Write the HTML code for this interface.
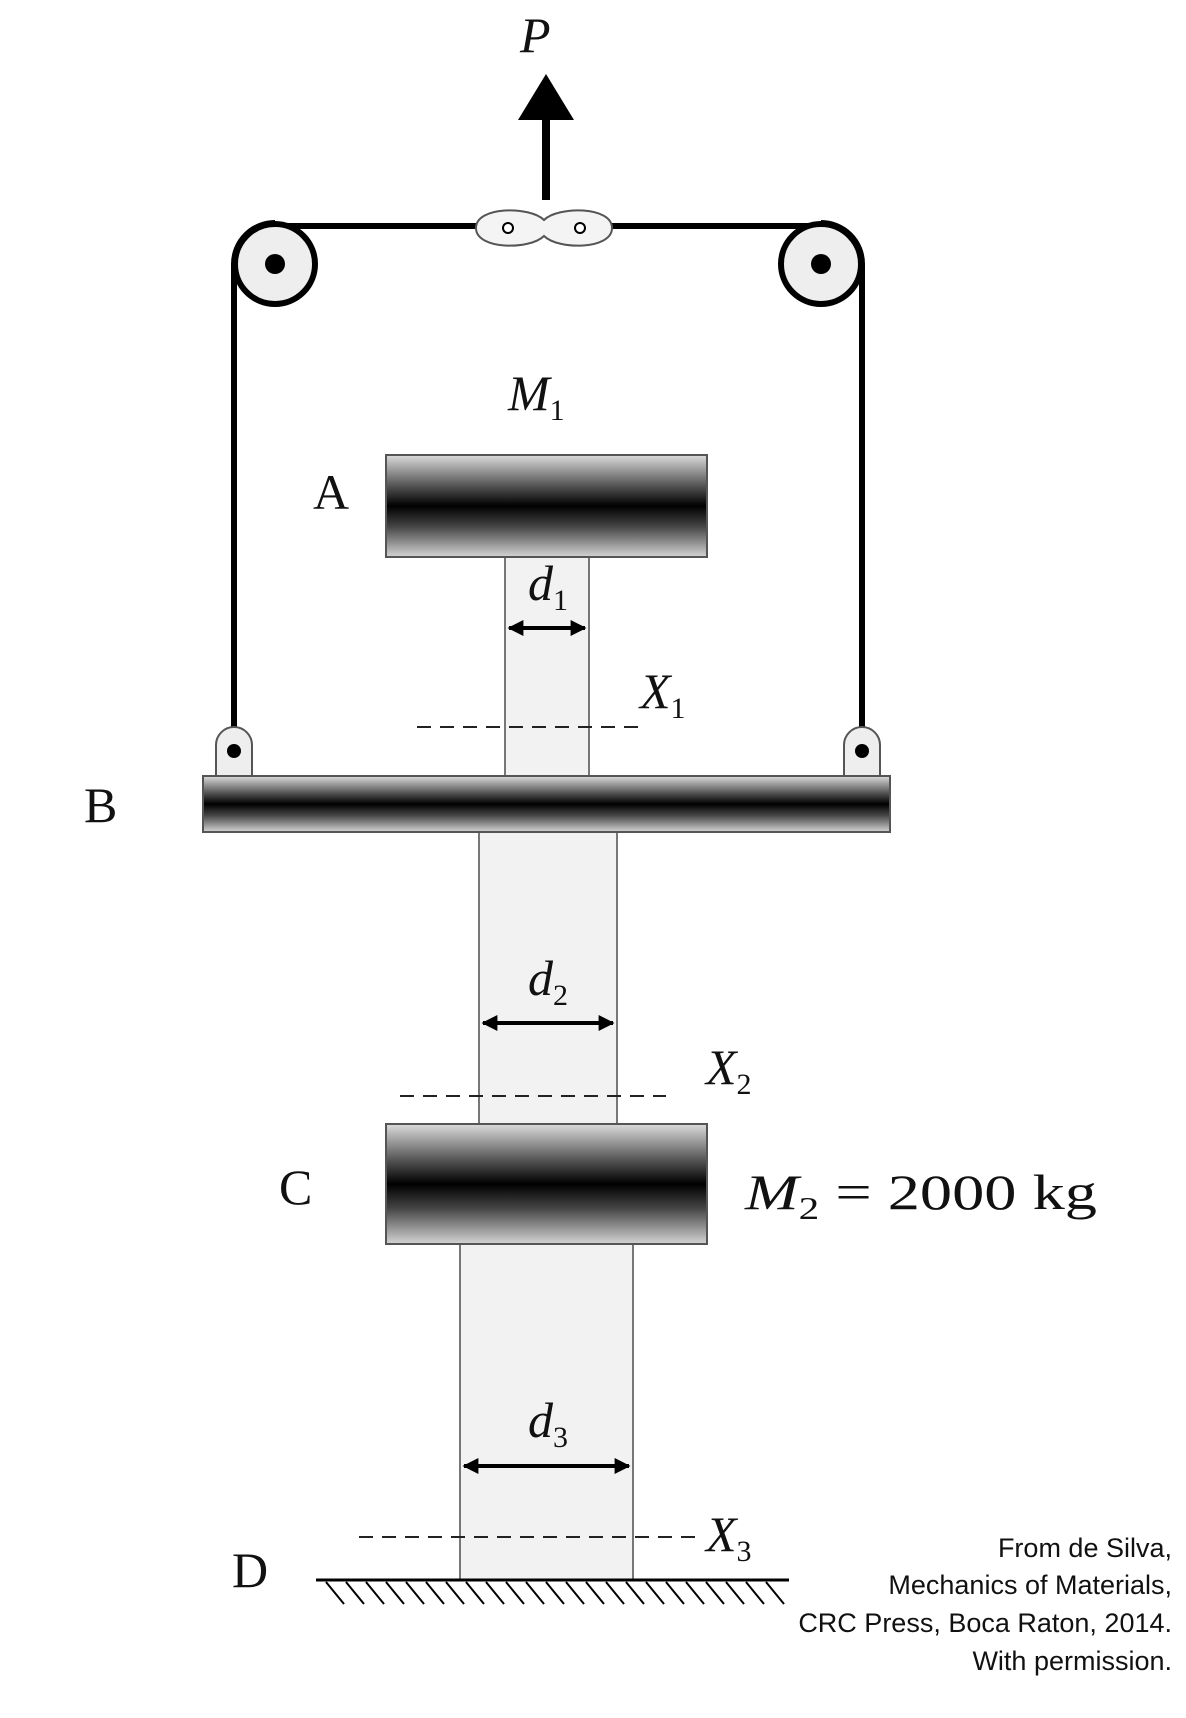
<!DOCTYPE html>
<html><head><meta charset="utf-8"><style>
html,body{margin:0;padding:0;background:#fff}
svg{display:block}
.s{font-family:"Liberation Serif",serif;font-size:50px;fill:#111}
.i{font-style:italic}
.c{font-family:"Liberation Sans",sans-serif;font-size:27px;fill:#111}
</style></head><body>
<svg width="1186" height="1718" viewBox="0 0 1186 1718">
<defs>
<linearGradient id="blk" x1="0" y1="0" x2="0" y2="1">
<stop offset="0" stop-color="#dcdcdc"/><stop offset="0.3" stop-color="#555"/><stop offset="0.5" stop-color="#000"/><stop offset="0.7" stop-color="#444"/><stop offset="1" stop-color="#d4d4d4"/>
</linearGradient>
<marker id="ah" viewBox="0 0 10 10" refX="9" refY="5" markerWidth="4" markerHeight="4" orient="auto-start-reverse"><path d="M0,0L10,5L0,10z" fill="#000"/></marker>
</defs>
<rect x="505" y="557" width="84" height="221" fill="#f2f2f2" stroke="#777" stroke-width="2"/>
<rect x="479" y="832" width="138" height="292" fill="#f2f2f2" stroke="#777" stroke-width="2"/>
<rect x="460" y="1244" width="173" height="336" fill="#f2f2f2" stroke="#777" stroke-width="2"/>
<g stroke="#000" stroke-width="6" fill="none">
<line x1="272" y1="226" x2="821" y2="226"/>
<line x1="234" y1="264" x2="234" y2="751"/>
<line x1="862" y1="264" x2="862" y2="751"/>
<path d="M234,264 A41,41 0 0 1 275,223"/>
<path d="M821,223 A41,41 0 0 1 862,264"/>
</g>
<g><circle cx="275" cy="264" r="40" fill="#eee" stroke="#000" stroke-width="6"/><circle cx="275" cy="264" r="10" fill="#000"/></g>
<g><circle cx="821" cy="264" r="40" fill="#eee" stroke="#000" stroke-width="6"/><circle cx="821" cy="264" r="10" fill="#000"/></g>
<g>
<path d="M476,228 C476,206 530,206 544,220 C558,206 612,206 612,228 C612,250 558,250 544,236 C530,250 476,250 476,228z" fill="#f4f4f4" stroke="#555" stroke-width="2"/>
<circle cx="508" cy="228" r="5" fill="#fff" stroke="#000" stroke-width="2"/><circle cx="580" cy="228" r="5" fill="#fff" stroke="#000" stroke-width="2"/>
</g>
<g><line x1="546" y1="200" x2="546" y2="115" stroke="#000" stroke-width="8"/><path d="M518,120 L546,74 L574,120z" fill="#000"/></g>
<text class="s i" x="520" y="52">P</text>
<g><path d="M216,776 L216,745 A18,18 0 0 1 252,745 L252,776" fill="#eee" stroke="#555" stroke-width="2"/><circle cx="234" cy="751" r="7" fill="#000"/></g>
<g><path d="M844,776 L844,745 A18,18 0 0 1 880,745 L880,776" fill="#eee" stroke="#555" stroke-width="2"/><circle cx="862" cy="751" r="7" fill="#000"/></g>
<rect x="386" y="455" width="321" height="102" fill="url(#blk)" stroke="#555" stroke-width="2"/>
<rect x="203" y="776" width="687" height="56" fill="url(#blk)" stroke="#555" stroke-width="2"/>
<rect x="386" y="1124" width="321" height="120" fill="url(#blk)" stroke="#555" stroke-width="2"/>
<g stroke="#000" stroke-width="4">
<line x1="509" y1="628" x2="585" y2="628" marker-start="url(#ah)" marker-end="url(#ah)"/>
<line x1="483" y1="1023" x2="613" y2="1023" marker-start="url(#ah)" marker-end="url(#ah)"/>
<line x1="464" y1="1466" x2="629" y2="1466" marker-start="url(#ah)" marker-end="url(#ah)"/>
</g>
<g stroke="#222" stroke-width="2" stroke-dasharray="14,9">
<line x1="417" y1="727" x2="640" y2="727"/>
<line x1="400" y1="1096" x2="666" y2="1096"/>
<line x1="359" y1="1537" x2="700" y2="1537"/>
</g>
<g stroke="#000" stroke-width="2">
<line x1="316" y1="1580" x2="789" y2="1580" stroke-width="3"/>
<path d="M326,1582l18,22M346,1582l18,22M366,1582l18,22M386,1582l18,22M406,1582l18,22M426,1582l18,22M446,1582l18,22M466,1582l18,22M486,1582l18,22M506,1582l18,22M526,1582l18,22M546,1582l18,22M566,1582l18,22M586,1582l18,22M606,1582l18,22M626,1582l18,22M646,1582l18,22M666,1582l18,22M686,1582l18,22M706,1582l18,22M726,1582l18,22M746,1582l18,22M766,1582l18,22"/>
</g>
<text class="s i" x="508" y="410">M<tspan font-size="30" dy="10" font-style="normal">1</tspan></text>
<text class="s" x="313" y="509">A</text>
<text class="s" x="84" y="822">B</text>
<text class="s" x="279" y="1204">C</text>
<text class="s" x="232" y="1587">D</text>
<text class="s i" x="528" y="600">d<tspan font-size="30" dy="10" font-style="normal">1</tspan></text>
<text class="s i" x="528" y="995">d<tspan font-size="30" dy="10" font-style="normal">2</tspan></text>
<text class="s i" x="528" y="1437">d<tspan font-size="30" dy="10" font-style="normal">3</tspan></text>
<text class="s i" x="640" y="708">X<tspan font-size="30" dy="10" font-style="normal">1</tspan></text>
<text class="s i" x="706" y="1084">X<tspan font-size="30" dy="10" font-style="normal">2</tspan></text>
<text class="s i" x="706" y="1551">X<tspan font-size="30" dy="10" font-style="normal">3</tspan></text>
<text class="s" x="745" y="1209" font-size="56" textLength="352" lengthAdjust="spacingAndGlyphs"><tspan font-style="italic">M</tspan><tspan font-size="32" dy="10">2</tspan><tspan dy="-10"> = 2000 kg</tspan></text>
<g text-anchor="end">
<text class="c" x="1172" y="1557">From de Silva,</text>
<text class="c" x="1172" y="1594">Mechanics of Materials,</text>
<text class="c" x="1172" y="1632">CRC Press, Boca Raton, 2014.</text>
<text class="c" x="1172" y="1670">With permission.</text>
</g>
</svg>
</body></html>
